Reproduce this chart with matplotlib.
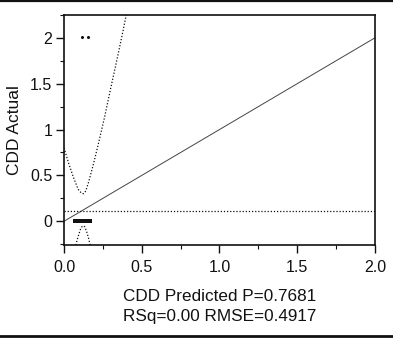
import matplotlib
matplotlib.use('Agg')
import matplotlib.pyplot as plt
from matplotlib.lines import Line2D
from matplotlib.ticker import MultipleLocator

plt.rcParams['font.family'] = ['Liberation Sans', 'DejaVu Sans']

# observed points (predicted, actual)
pts_x = [0.070, 0.080, 0.090, 0.100, 0.110, 0.120, 0.130, 0.140, 0.150, 0.160, 0.168, 0.114, 0.152]
pts_y = [0.0, 0.0, 0.0, 0.0, 0.0, 0.0, 0.0, 0.0, 0.0, 0.0, 0.0, 2.01, 2.01]

# fit line and mean line
fit_x = [0.0, 2.0]
fit_y = [0.0, 2.0]
mean_y = 0.112

# confidence curves
upper_x = [0.0, 0.03, 0.06, 0.09, 0.11, 0.124, 0.14, 0.16, 0.19, 0.22, 0.26, 0.30, 0.34, 0.38, 0.40]
upper_y = [0.80, 0.63, 0.48, 0.35, 0.31, 0.30, 0.33, 0.44, 0.63, 0.84, 1.13, 1.45, 1.76, 2.08, 2.25]
lower_x = [0.075, 0.09, 0.105, 0.115, 0.124, 0.133, 0.145, 0.157, 0.168]
lower_y = [-0.26, -0.17, -0.09, -0.06, -0.05, -0.06, -0.11, -0.18, -0.26]

x_ticks = [0.0, 0.5, 1.0, 1.5, 2.0]
x_labels = ['0.0', '0.5', '1.0', '1.5', '2.0']
y_ticks = [0, 0.5, 1, 1.5, 2]
y_labels = ['0', '0.5', '1', '1.5', '2']

fig = plt.figure(figsize=(3.93, 3.39), dpi=100)
ax = fig.add_axes([0.163, 0.277, 0.791, 0.679])

ink = '#111111'
dots = (0, (1, 1.5))

ax.plot(fit_x, fit_y, color='#444444', lw=0.7)
ax.axhline(mean_y, color=ink, lw=0.9, ls=dots)
ax.plot(upper_x, upper_y, color=ink, lw=0.9, ls=dots)
ax.plot(lower_x, lower_y, color=ink, lw=0.9, ls=dots)
# cluster at zero drawn as a solid run, the two top points as separate dots
ax.plot(pts_x[:11], pts_y[:11], 's', color=ink, ms=2.4, mew=0)
ax.plot(pts_x[11:], pts_y[11:], 'o', color=ink, ms=2.2, mew=0)

ax.set_xlim(0, 2.0)
ax.set_ylim(-0.26, 2.25)
ax.set_xticks(x_ticks)
ax.set_xticklabels(x_labels)
ax.set_yticks(y_ticks)
ax.set_yticklabels(y_labels)
ax.xaxis.set_minor_locator(MultipleLocator(0.25))
ax.yaxis.set_minor_locator(MultipleLocator(0.25))
ax.tick_params(which='major', length=5.5, width=1.0, color=ink, labelsize=11.5, labelcolor=ink)
ax.tick_params(axis='x', which='major', pad=5)
ax.tick_params(axis='y', which='major', pad=3)
ax.tick_params(which='minor', length=3, width=0.8, color=ink)
for s in ax.spines.values():
    s.set_linewidth(1.2)
    s.set_color(ink)

ax.set_ylabel('CDD Actual', fontsize=12.5, color=ink, labelpad=6)
ax.set_xlabel('CDD Predicted P=0.7681\nRSq=0.00 RMSE=0.4917', fontsize=12.3, color=ink,
              labelpad=10, linespacing=1.45)

# frame rules at the top and bottom of the figure
fig.add_artist(Line2D([0, 1], [0.998, 0.998], transform=fig.transFigure, color=ink, lw=1.6))
fig.add_artist(Line2D([0, 1], [0.009, 0.009], transform=fig.transFigure, color=ink, lw=2.0))

fig.savefig('out.png', dpi=100)
